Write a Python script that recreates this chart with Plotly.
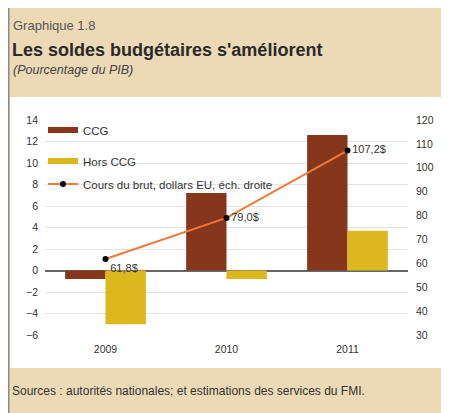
import plotly.graph_objects as go

years = ["2009", "2010", "2011"]
ccg = [-0.8, 7.2, 12.6]
hors_ccg = [-5.0, -0.8, 3.7]
oil = [61.8, 79.0, 107.2]
oil_labels = ["61,8$", "79,0$", "107,2$"]

# The page body adds an 8px margin; figure coords = page coords - 8
OFF = 8
W, H = 449 - OFF, 413 - OFF
L, R, T, B = 45 - OFF, 408 - OFF, 120 - OFF, 335 - OFF  # plot area in figure pixels

def fx(page_x):
    return (page_x - OFF - L) / (R - L)

def fy(page_y):
    return (B - (page_y - OFF)) / (B - T)

FONT = "Liberation Sans, Arial, sans-serif"
C_CCG = "#86361a"
C_HORS = "#dcb81e"
C_OIL = "#f07838"

fig = go.Figure()
fig.add_trace(go.Bar(x=years, y=ccg, name="CCG", marker=dict(color=C_CCG, line=dict(width=0)),
                     showlegend=False))
fig.add_trace(go.Bar(x=years, y=hors_ccg, name="Hors CCG", marker=dict(color=C_HORS, line=dict(width=0)),
                     showlegend=False))
# legend proxies (flat bar swatches)
fig.add_trace(go.Scatter(x=[None], y=[None], mode="lines", name="CCG",
                         line=dict(color=C_CCG, width=6), legend="legend"))
fig.add_trace(go.Scatter(x=[None], y=[None], mode="lines", name="Hors CCG",
                         line=dict(color=C_HORS, width=6), legend="legend2"))
fig.add_trace(go.Scatter(x=years, y=oil, yaxis="y2", mode="lines+markers+text",
                         name="Cours du brut, dollars EU, éch. droite",
                         line=dict(color=C_OIL, width=2),
                         marker=dict(color="black", size=6),
                         text=oil_labels, textposition=["bottom right", "middle right", "middle right"],
                         textfont=dict(size=11, color="#333", family=FONT),
                         legend="legend3"))

shapes = [
    dict(type="rect", xref="paper", yref="paper", x0=fx(10), x1=fx(443), y0=fy(368), y1=fy(97),
         fillcolor="white", line=dict(width=0), layer="below"),
    dict(type="line", xref="paper", yref="paper", x0=fx(8.5), x1=fx(8.5), y0=fy(430), y1=fy(0),
         line=dict(color="#8a8a8a", width=2), layer="below"),
]

annotations = [
    dict(text="Graphique 1.8", x=fx(11), y=fy(25), font=dict(size=13, color="#555", family=FONT)),
    dict(text="<b>Les soldes budgétaires s'améliorent</b>", x=fx(10), y=fy(50),
         font=dict(size=18, color="#2a2a2a", family=FONT)),
    dict(text="<i>(Pourcentage du PIB)</i>", x=fx(11), y=fy(70), font=dict(size=12.5, color="#444", family=FONT)),
    dict(text="Sources : autorités nationales; et estimations des services du FMI.", x=fx(10), y=fy(391),
         font=dict(size=12, color="#333", family=FONT)),
]
for a in annotations:
    a.update(xref="paper", yref="paper", xanchor="left", yanchor="middle", showarrow=False)

def leg(page_y):
    return dict(x=fx(43), y=fy(page_y), xanchor="left", yanchor="middle", bgcolor="rgba(0,0,0,0)",
                font=dict(size=11.5, color="#333", family=FONT), itemwidth=30, borderwidth=0)

tickf = dict(size=10.5, color="#333", family=FONT)

fig.update_layout(
    width=W, height=H,
    margin=dict(l=L, r=W - R, t=T, b=H - B, pad=0),
    paper_bgcolor="#ecd9b6",
    plot_bgcolor="white",
    barmode="group", bargap=0.333, bargroupgap=0,
    font=dict(family=FONT, size=10, color="#333"),
    showlegend=True,
    legend=leg(130),
    legend2=leg(161),
    legend3=leg(184),
    xaxis=dict(showgrid=False, showline=False, ticks="", tickfont=tickf, ticklabelstandoff=6),
    yaxis=dict(range=[-6, 14], dtick=2, tick0=0, showgrid=True, gridcolor="#e4e4e4", gridwidth=1,
               zeroline=True, zerolinecolor="#666", zerolinewidth=1.5, showline=False,
               ticks="", tickfont=tickf, ticklabelstandoff=6),
    yaxis2=dict(range=[30, 120], dtick=10, tick0=0, overlaying="y", side="right", showgrid=False,
                zeroline=False, showline=False, ticks="", tickfont=tickf, ticklabelstandoff=7),
    shapes=shapes,
    annotations=annotations,
)

fig.write_html("out.html")
